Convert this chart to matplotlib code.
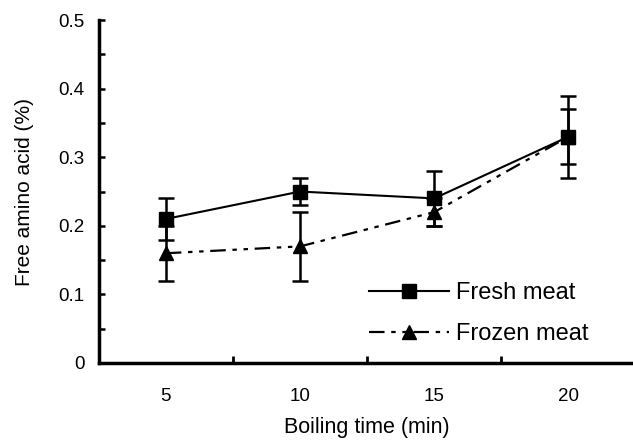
import numpy as np
import matplotlib
matplotlib.use('Agg')
import matplotlib.pyplot as plt
from matplotlib.lines import Line2D
from matplotlib.ticker import MultipleLocator, FixedLocator

plt.rcParams['font.family'] = ['Liberation Sans', 'DejaVu Sans']

# data
times = ['5', '10', '15', '20']
fresh = [0.21, 0.25, 0.24, 0.33]
fresh_err = [0.03, 0.02, 0.04, 0.06]
frozen = [0.16, 0.17, 0.22, 0.33]
frozen_err = [0.04, 0.05, 0.02, 0.04]
y_labels = ['0', '0.1', '0.2', '0.3', '0.4', '0.5']

x = np.arange(len(times))
dash = (7, 3, 2, 3, 2, 3)

fig = plt.figure(figsize=(6.33, 4.47), dpi=100)
ax = fig.add_axes([0.156, 0.188, 0.848, 0.767])

ax.errorbar(x, fresh, yerr=fresh_err, color='black', lw=1.5, marker='s', ms=10,
            elinewidth=1.8, capsize=5.5, capthick=1.8, zorder=3)
ax.errorbar(x, frozen, yerr=frozen_err, color='black', lw=1.6, marker='^', ms=10,
            elinewidth=1.8, capsize=5.5, capthick=1.8, dashes=dash, zorder=2)

ax.set_xlim(-0.5, 3.5)
ax.set_ylim(0, 0.5)

# y ticks
ax.yaxis.set_major_locator(FixedLocator([0, 0.1, 0.2, 0.3, 0.4, 0.5]))
ax.set_yticklabels(y_labels)
ax.yaxis.set_minor_locator(MultipleLocator(0.05))
ax.tick_params(axis='y', which='both', direction='in', length=4, width=1.8,
               labelsize=13.5, pad=10)

# x ticks: marks between categories, labels at centers
ax.xaxis.set_major_locator(FixedLocator([0.5, 1.5, 2.5]))
ax.set_xticklabels([])
ax.xaxis.set_minor_locator(FixedLocator(x))
ax.set_xticklabels(times, minor=True)
ax.tick_params(axis='x', which='major', direction='in', length=5, width=2)
ax.tick_params(axis='x', which='minor', length=0, labelsize=13.5, pad=18)

for s in ['top', 'right']:
    ax.spines[s].set_visible(False)
for s in ['left', 'bottom']:
    ax.spines[s].set_linewidth(2.5)

ax.set_xlabel('Boiling time (min)', fontsize=15.5, labelpad=9)
ax.set_ylabel('Free amino acid (%)', fontsize=15, labelpad=18)

handles = [
    Line2D([], [], color='black', lw=1.5, marker='s', ms=10),
    Line2D([], [], color='black', lw=1.6, marker='^', ms=10, dashes=dash),
]
ax.legend(handles, ['Fresh meat', 'Frozen meat'], loc='upper left',
          bbox_to_anchor=(0.481, 0.27), frameon=False, fontsize=17, borderpad=0,
          handlelength=3.4, handletextpad=0.3, labelspacing=0.8)

fig.savefig('out.png', dpi=100)
